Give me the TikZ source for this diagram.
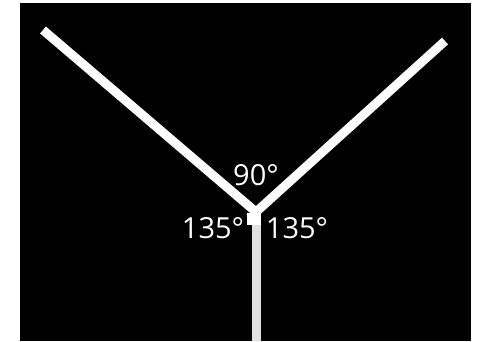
\documentclass[tikz,border=0pt]{standalone}
\usepackage{fontspec}
\setmainfont{Open Sans}
\usetikzlibrary{positioning}

\begin{document}
\begin{tikzpicture}[
  x=0.02cm, y=-0.02cm,
  font=\fontsize{16.5}{19}\selectfont,
  arm/.style={draw=white, line width=0.18cm, line cap=butt},
  stem/.style={draw=white!88!black, line width=0.18cm, line cap=butt},
  joint/.style={fill=white, inner sep=0pt, minimum width=0.28cm, minimum height=0.24cm},
  anglbl/.style={text=white, inner sep=0pt},
]

% ---------- frame ----------
\useasboundingbox (0,0) rectangle (479,341);
\fill[white] (0,0) rectangle (479,341);
\fill[black] (20,3) rectangle (471,341);

% ---------- points ----------
\coordinate (leftEnd)  at (43,30);
\coordinate (rightEnd) at (445,41);
\coordinate (hub)      at (256,212);
\coordinate (stemEnd)  at (256,341);

% ---------- arms ----------
\draw[stem] (hub) -- (stemEnd);
\draw[arm]  (leftEnd) -- (hub) -- (rightEnd);
\node[joint] (knot) at (254,219) {};

% ---------- angle labels ----------
\node[anglbl] (topAng)   at (256,175) {90°};
\node[anglbl] (leftAng)  at (213,228) {135°};
\node[anglbl] (rightAng) at (297,228) {135°};

\end{tikzpicture}
\end{document}
